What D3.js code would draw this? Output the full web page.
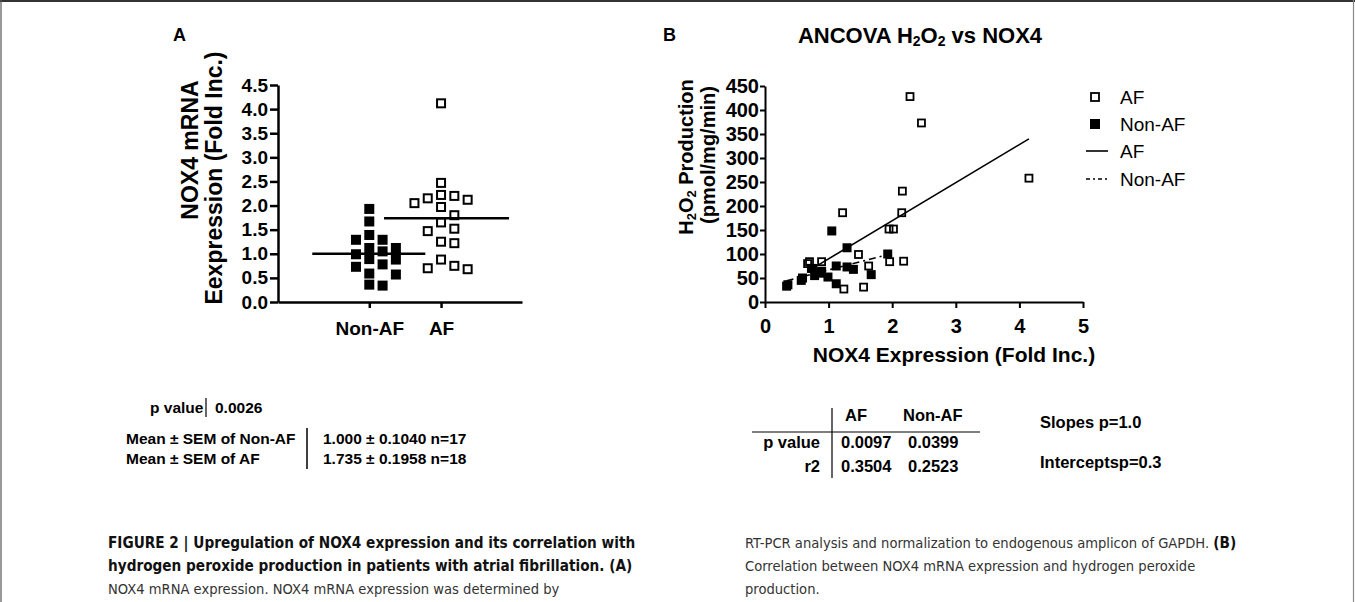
<!DOCTYPE html>
<html>
<head>
<meta charset="utf-8">
<script src="https://cdn.jsdelivr.net/npm/d3@7"></script>
<style>
    body { margin: 0; background: #fff; }
    svg text { font-family: "Liberation Sans", Arial, sans-serif; fill: #000; }
    .cap text { font-family: "Liberation Sans Narrow", "DejaVu Sans Condensed", sans-serif; }
</style>
</head>
<body>
<div id="fig"></div>
<script>
// panel A - NOX4 mRNA (fold inc.)
var groups = ["Non-AF", "AF"];
var nonAfExpr = [1.93, 1.67, 1.39, 1.29, 1.29, 1.12, 1.12, 1.05, 0.99, 0.89, 0.88, 0.78, 0.73, 0.59, 0.57, 0.36, 0.34];
var afExpr = [4.12, 2.47, 2.22, 2.20, 2.15, 2.12, 2.05, 1.97, 1.80, 1.65, 1.52, 1.47, 1.25, 1.22, 0.88, 0.75, 0.70, 0.68];
var yTicksA = [0, 0.5, 1, 1.5, 2, 2.5, 3, 3.5, 4, 4.5];

// panel B - H2O2 vs NOX4
var afX = [2.28, 2.46, 4.15, 2.16, 1.22, 2.15, 1.95, 2.02, 1.47, 0.70, 0.89, 1.63, 1.96, 2.18, 1.24, 1.55, 0.67, 0.75];
var afY = [428, 373, 258, 231, 186, 186, 152, 152, 99, 84, 84, 75, 84, 85, 27, 31, 80, 70];
var nonAfX = [1.93, 1.67, 1.39, 1.29, 1.29, 1.12, 1.12, 1.05, 0.89, 0.99, 0.88, 0.78, 0.73, 0.57, 0.59, 0.34, 0.36];
var nonAfY = [100, 57, 68, 113, 73, 75, 38, 148, 64, 52, 60, 55, 70, 45, 50, 33, 36];
var xTicksB = [0, 1, 2, 3, 4, 5];
var yTicksB = [0, 50, 100, 150, 200, 250, 300, 350, 400, 450];
var legendLabels = ["AF", "Non-AF", "AF", "Non-AF"];

// tables
var tableA = [["Mean \u00b1 SEM of Non-AF", "1.000 \u00b1 0.1040 n=17"], ["Mean \u00b1 SEM of AF", "1.735 \u00b1 0.1958 n=18"]];
var pValueA = "0.0026";
var tableBHead = ["AF", "Non-AF"];
var tableBRows = [["p value", "0.0097", "0.0399"], ["r2", "0.3504", "0.2523"]];
var ancovaNotes = ["Slopes p=1.0", "Interceptsp=0.3"];

var svg = d3.select("#fig").append("svg")
    .attr("width", 1355)
    .attr("height", 602);

// page frame
svg.append("line").attr("x1", 0).attr("x2", 1355).attr("y1", 1).attr("y2", 1)
    .style("stroke", "#333").style("stroke-width", 2);
svg.append("line").attr("x1", 1).attr("x2", 1).attr("y1", 0).attr("y2", 602)
    .style("stroke", "#555").style("stroke-width", 1.2);
svg.append("line").attr("x1", 1353.5).attr("x2", 1353.5).attr("y1", 0).attr("y2", 602)
    .style("stroke", "#888").style("stroke-width", 1.2);

function styleAxis(g, fs, sw) {
    g.select(".domain").style("stroke", "#000").style("stroke-width", sw);
    g.selectAll(".tick line").style("stroke", "#000").style("stroke-width", sw);
    g.selectAll(".tick text").style("font-size", fs + "px").style("font-weight", "bold")
        .style("font-family", "'Liberation Sans', Arial, sans-serif");
}

function drawPanelA() {
    var yA = d3.scaleLinear().domain([0, 4.5]).range([302, 85]);
    var xA = d3.scalePoint().domain(groups).range([278, 522]).padding(1.2).align(0.53);
    var slot = 13.3, box = 10;

    var gy = svg.append("g").attr("transform", "translate(278,0)")
        .call(d3.axisLeft(yA).tickValues(yTicksA).tickFormat(d3.format(".1f")).tickSize(8).tickSizeOuter(0).tickPadding(2));
    styleAxis(gy, 19, 2.5);

    var gx = svg.append("g").attr("transform", "translate(0,302)")
        .call(d3.axisBottom(xA).tickSize(6).tickSizeOuter(0).tickPadding(14));
    styleAxis(gx, 19, 2.5);

    svg.append("text").attr("transform", "translate(198,150) rotate(-90)")
        .attr("text-anchor", "middle").style("font-size", "23px").style("font-weight", "bold")
        .text("NOX4 mRNA");
    svg.append("text").attr("transform", "translate(222,178) rotate(-90)")
        .attr("text-anchor", "middle").style("font-size", "23px").style("font-weight", "bold")
        .text("Eexpression (Fold Inc.)");
    svg.append("text").attr("x", 173).attr("y", 41)
        .style("font-size", "18px").style("font-weight", "bold").text("A");

    // simple column scatter: values sorted high to low, pushed sideways when they collide
    function swarm(vals) {
        var placed = [];
        var order = [0, 1, -1, 2, -2, 3, -3, 4, -4];
        vals.slice().sort(function (a, b) { return b - a; }).forEach(function (v) {
            var py = yA(v);
            for (var k = 0; k < order.length; k++) {
                var hit = placed.some(function (p) {
                    return p.s == order[k] && Math.abs(p.y - py) < box + 0.5;
                });
                if (!hit) { placed.push({v: v, y: py, s: order[k]}); break; }
            }
        });
        return placed;
    }

    var sets = [nonAfExpr, afExpr];
    sets.forEach(function (vals, gi) {
        var cx = xA(groups[gi]);
        var pts = swarm(vals);
        svg.append("g").selectAll("rect")
            .data(pts)
            .enter()
            .append("rect")
            .attr("x", function (d) { return cx + d.s * slot - box / 2 + (gi ? 1 : 0); })
            .attr("y", function (d) { return d.y - box / 2 + (gi ? 1 : 0); })
            .attr("width", gi ? box - 2 : box)
            .attr("height", gi ? box - 2 : box)
            .style("fill", gi ? "#fff" : "#000")
            .style("stroke", "#000")
            .style("stroke-width", gi ? 2 : 0);

        var m = d3.mean(vals);
        svg.append("line")
            .attr("x1", cx - 57).attr("x2", cx + (gi ? 68 : 56))
            .attr("y1", yA(m)).attr("y2", yA(m))
            .style("stroke", "#000").style("stroke-width", 2.5);
    });

    // stats under panel A
    var t = svg.append("g").style("font-size", "15.5px").style("font-weight", "bold");
    t.append("text").attr("x", 150).attr("y", 413).text("p value");
    t.append("line").attr("x1", 206).attr("x2", 206).attr("y1", 398).attr("y2", 417)
        .style("stroke", "#000").style("stroke-width", 1.2);
    t.append("text").attr("x", 215).attr("y", 413).text(pValueA);
    tableA.forEach(function (r, i) {
        t.append("text").attr("x", 126).attr("y", 444 + i * 20).text(r[0]);
        t.append("text").attr("x", 323).attr("y", 444 + i * 20).text(r[1]);
    });
    t.append("line").attr("x1", 307).attr("x2", 307).attr("y1", 428).attr("y2", 469)
        .style("stroke", "#000").style("stroke-width", 1.5);
}

function fit(xs, ys) {
    var mx = d3.mean(xs), my = d3.mean(ys), sxy = 0, sxx = 0;
    xs.forEach(function (x, i) { sxy += (x - mx) * (ys[i] - my); sxx += (x - mx) * (x - mx); });
    var b = sxy / sxx;
    return {b: b, a: my - b * mx, x0: d3.min(xs), x1: d3.max(xs)};
}

function drawPanelB() {
    var xB = d3.scaleLinear().domain([0, 5]).range([765, 1083]);
    var yB = d3.scaleLinear().domain([0, 450]).range([302, 86]);
    var box = 9;

    var gy = svg.append("g").attr("transform", "translate(765,0)")
        .call(d3.axisLeft(yB).tickValues(yTicksB).tickSize(5).tickSizeOuter(0).tickPadding(1));
    styleAxis(gy, 20, 2);
    var gx = svg.append("g").attr("transform", "translate(0,302)")
        .call(d3.axisBottom(xB).tickValues(xTicksB).tickFormat(d3.format("d")).tickSize(6).tickSizeOuter(0).tickPadding(11));
    styleAxis(gx, 20, 2);

    svg.append("text").attr("x", 663).attr("y", 41)
        .style("font-size", "18px").style("font-weight", "bold").text("B");

    var title = svg.append("text").attr("x", 920).attr("y", 43).attr("text-anchor", "middle")
        .style("font-size", "22px").style("font-weight", "bold");
    title.append("tspan").text("ANCOVA H");
    title.append("tspan").attr("dy", 3).style("font-size", "14px").text("2");
    title.append("tspan").attr("dy", -3).text("O");
    title.append("tspan").attr("dy", 3).style("font-size", "14px").text("2");
    title.append("tspan").attr("dy", -3).text(" vs NOX4");

    var yt = svg.append("text").attr("transform", "translate(693,157) rotate(-90)")
        .attr("text-anchor", "middle").style("font-size", "20px").style("font-weight", "bold");
    yt.append("tspan").text("H");
    yt.append("tspan").attr("dy", 3).style("font-size", "13px").text("2");
    yt.append("tspan").attr("dy", -3).text("O");
    yt.append("tspan").attr("dy", 3).style("font-size", "13px").text("2");
    yt.append("tspan").attr("dy", -3).text(" Production");
    svg.append("text").attr("transform", "translate(715,155) rotate(-90)")
        .attr("text-anchor", "middle").style("font-size", "20px").style("font-weight", "bold")
        .text("(pmol/mg/min)");

    svg.append("text").attr("x", 954).attr("y", 362).attr("text-anchor", "middle")
        .style("font-size", "21px").style("font-weight", "bold").text("NOX4 Expression (Fold Inc.)");

    // regression lines
    var fa = fit(afX, afY), fn = fit(nonAfX, nonAfY);
    svg.append("line")
        .attr("x1", xB(fa.x0)).attr("y1", yB(fa.a + fa.b * fa.x0))
        .attr("x2", xB(fa.x1)).attr("y2", yB(fa.a + fa.b * fa.x1))
        .style("stroke", "#000").style("stroke-width", 1.6);
    svg.append("line")
        .attr("x1", xB(fn.x0)).attr("y1", yB(fn.a + fn.b * fn.x0))
        .attr("x2", xB(fn.x1)).attr("y2", yB(fn.a + fn.b * fn.x1))
        .style("stroke", "#000").style("stroke-width", 1.6)
        .style("stroke-dasharray", "7,4,2,4");

    svg.append("g").selectAll("rect")
        .data(nonAfX)
        .enter()
        .append("rect")
        .attr("x", function (d) { return xB(d) - box / 2; })
        .attr("y", function (d, i) { return yB(nonAfY[i]) - box / 2; })
        .attr("width", box).attr("height", box)
        .style("fill", "#000");

    svg.append("g").selectAll("rect")
        .data(afX)
        .enter()
        .append("rect")
        .attr("x", function (d) { return xB(d) - box / 2 + 1; })
        .attr("y", function (d, i) { return yB(afY[i]) - box / 2 + 1; })
        .attr("width", box - 2).attr("height", box - 2)
        .style("fill", "none").style("stroke", "#000").style("stroke-width", 1.8);

    // legend
    var lg = svg.append("g");
    var ly = [97, 124, 151, 179];
    lg.append("rect").attr("x", 1091).attr("y", ly[0] - 4).attr("width", 8).attr("height", 8)
        .style("fill", "none").style("stroke", "#000").style("stroke-width", 1.8);
    lg.append("rect").attr("x", 1090).attr("y", ly[1] - 5).attr("width", 10).attr("height", 10)
        .style("fill", "#000");
    lg.append("line").attr("x1", 1086).attr("x2", 1108).attr("y1", ly[2]).attr("y2", ly[2])
        .style("stroke", "#000").style("stroke-width", 1.6);
    lg.append("line").attr("x1", 1086).attr("x2", 1108).attr("y1", ly[3]).attr("y2", ly[3])
        .style("stroke", "#000").style("stroke-width", 1.6).style("stroke-dasharray", "4,3,2,3");
    lg.selectAll("text")
        .data(legendLabels)
        .enter()
        .append("text")
        .attr("x", 1120)
        .attr("y", function (d, i) { return ly[i] + 7; })
        .style("font-size", "19px")
        .text(function (d) { return d; });

    // ANCOVA table
    var t = svg.append("g").style("font-size", "16.5px").style("font-weight", "bold");
    t.append("text").attr("x", 845).attr("y", 421).text(tableBHead[0]);
    t.append("text").attr("x", 903).attr("y", 421).text(tableBHead[1]);
    t.append("line").attr("x1", 752).attr("x2", 980).attr("y1", 432).attr("y2", 432)
        .style("stroke", "#000").style("stroke-width", 1.2);
    t.append("line").attr("x1", 832).attr("x2", 832).attr("y1", 408).attr("y2", 478)
        .style("stroke", "#000").style("stroke-width", 1.2);
    tableBRows.forEach(function (r, i) {
        t.append("text").attr("x", 820).attr("y", 448 + i * 24).attr("text-anchor", "end").text(r[0]);
        t.append("text").attr("x", 841).attr("y", 448 + i * 24).text(r[1]);
        t.append("text").attr("x", 908).attr("y", 448 + i * 24).text(r[2]);
    });
    ancovaNotes.forEach(function (s, i) {
        t.append("text").attr("x", 1040).attr("y", 428 + i * 40).text(s);
    });
}

function drawCaption() {
    var c = svg.append("g").attr("class", "cap");
    var left = [
        [{t: "FIGURE 2 | Upregulation of NOX4 expression and its correlation with", b: 1}],
        [{t: "hydrogen peroxide production in patients with atrial fibrillation. (A)", b: 1}],
        [{t: "NOX4 mRNA expression. NOX4 mRNA expression was determined by", b: 0}]
    ];
    var right = [
        [{t: "RT-PCR analysis and normalization to endogenous amplicon of GAPDH. ", b: 0}, {t: "(B)", b: 1}],
        [{t: "Correlation between NOX4 mRNA expression and hydrogen peroxide", b: 0}],
        [{t: "production.", b: 0}]
    ];
    [[left, 108], [right, 745]].forEach(function (col) {
        col[0].forEach(function (parts, i) {
            var tx = c.append("text").attr("x", col[1]).attr("y", 548 + i * 23);
            parts.forEach(function (p) {
                tx.append("tspan").style("font-weight", p.b ? "bold" : "normal")
                    .style("font-size", p.b ? "15.2px" : "14.6px")
                    .style("fill", p.b ? "#111" : "#333").text(p.t);
            });
        });
    });
}

drawPanelA();
drawPanelB();
drawCaption();
</script>
</body>
</html>
